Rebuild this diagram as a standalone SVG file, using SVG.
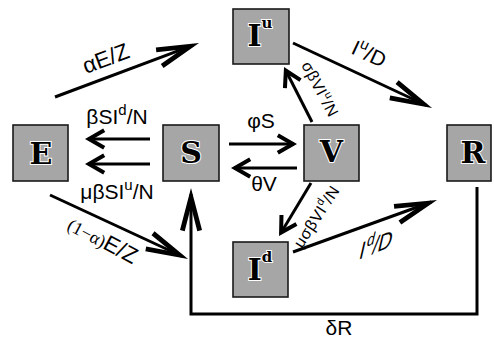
<svg xmlns="http://www.w3.org/2000/svg" width="494" height="338" viewBox="0 0 494 338">
<style>
.box{fill:#a6a6a6;stroke:#1a1a1a;stroke-width:1.6}
.nl{font-family:"DejaVu Serif",serif;font-weight:bold;font-size:30px;fill:#000;stroke:#fff;stroke-width:2;paint-order:stroke;text-anchor:middle}
.ns{font-size:15px}
.ln{fill:none;stroke:#000;stroke-width:3}
.hs{marker-end:url(#hs)}
.hl{marker-end:url(#hl)}
.lbl{font-family:"Liberation Sans",Arial,sans-serif;font-size:21px;fill:#000}
.big{font-size:22.5px}
.sp{font-size:15px}
.sm{font-size:16px;letter-spacing:0.6px}
.ser{font-family:"Liberation Serif","Times New Roman",serif;font-size:18px}
</style>
<defs>
<marker id="hs" markerUnits="userSpaceOnUse" viewBox="-25 -15 30 30" markerWidth="30" markerHeight="30" refX="-3" refY="0" orient="auto" overflow="visible">
<polygon points="0,0 -18.2,-10.5 -20.2,-7 -8,0 -20.2,7 -18.2,10.5"/>
</marker>
<marker id="hl" markerUnits="userSpaceOnUse" viewBox="-50 -15 55 30" markerWidth="55" markerHeight="30" refX="-6" refY="0" orient="auto" overflow="visible">
<polygon points="0,0 -42,-11 -43.2,-6.3 -18.6,0 -43.2,6.3 -42,11"/>
</marker>
</defs>
<rect width="494" height="338" fill="#fff"/>
<g id="connectors">
<path class="ln hl" d="M55,97 L193.4,45.1"/>
<path class="ln hl" d="M293,43 L426.6,105.5"/>
<path class="ln hs" d="M150,139 L88,139"/>
<path class="ln hs" d="M150,164 L88,164"/>
<path class="ln hs" d="M229,144 L294,144"/>
<path class="ln hs" d="M297,168 L234,168"/>
<path class="ln hs" d="M312,122 L285.4,69.7"/>
<path class="ln hs" d="M311,183 L280.6,233.4"/>
<path class="ln hl" d="M293,252 L431.4,202"/>
<path class="ln hl" d="M50,195 L182.6,256.5"/>
<path class="ln hl" d="M477,187 L477,314 L191,314 L191,194"/>
<text class="lbl big" transform="translate(86,74) rotate(-20.6)">αE/Z</text>
<text class="lbl" x="117" y="124" text-anchor="middle">βSI<tspan class="sp" dy="-9">d</tspan><tspan dy="9">/N</tspan></text>
<text class="lbl" x="117" y="199" text-anchor="middle">μβSI<tspan class="sp" dy="-9">u</tspan><tspan dy="9">/N</tspan></text>
<text class="lbl" x="261" y="128" text-anchor="middle">φS</text>
<text class="lbl" x="264" y="191" text-anchor="middle">θV</text>
<text class="lbl" x="339" y="335" text-anchor="middle">δR</text>
<text class="lbl" transform="translate(350,53) rotate(25)">I<tspan class="sp" dy="-9">u</tspan><tspan dy="9">/D</tspan></text>
<text class="lbl sm" transform="translate(301,65) rotate(62)">σβVI<tspan font-size="11" dy="-7">u</tspan><tspan dy="7">/N</tspan></text>
<text class="lbl sm" transform="translate(302,249) rotate(-57)">μσβVI<tspan font-size="11" dy="-7">d</tspan><tspan dy="7">/N</tspan></text>
<text class="lbl" transform="translate(358,260) rotate(-22) skewX(-35)">I<tspan class="sp" dy="-9">d</tspan><tspan dy="9">/D</tspan></text>
<text class="lbl big" transform="translate(66,229) rotate(28)"><tspan class="ser">(1−α)</tspan>E/Z</text>
</g>
<g id="node-E"><rect class="box" x="13" y="125" width="55" height="56"/><text class="nl" x="41" y="164">E</text></g>
<g id="node-S"><rect class="box" x="163" y="125" width="56" height="56"/><text class="nl" x="191" y="163">S</text></g>
<g id="node-V"><rect class="box" x="304" y="125" width="55" height="56"/><text class="nl" x="331.5" y="162">V</text></g>
<g id="node-R"><rect class="box" x="447" y="125" width="44" height="56"/><text class="nl" x="473" y="163">R</text></g>
<g id="node-Iu"><rect class="box" x="233" y="9" width="56" height="55"/><text class="nl" x="260" y="46">I<tspan class="ns" dy="-18">u</tspan></text></g>
<g id="node-Id"><rect class="box" x="233" y="242" width="55" height="55"/><text class="nl" x="260" y="280">I<tspan class="ns" dy="-18">d</tspan></text></g>
</svg>
